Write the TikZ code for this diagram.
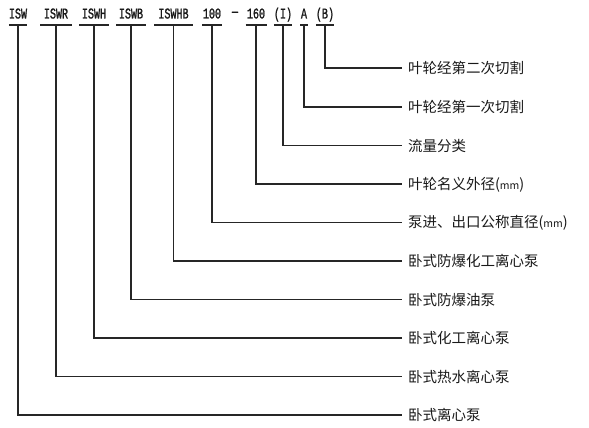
\documentclass[tikz,border=0pt]{standalone}
\usepackage{fontspec}
\setmainfont{Noto Sans CJK SC}
\newfontfamily\monofnt[FakeStretch=0.67,FakeBold=1.2]{Liberation Mono}
\newcommand{\mmunit}{({\fontsize{10.5}{10}\selectfont mm})}
\begin{document}
\begin{tikzpicture}[x=1pt,y=-1pt,
  lbl/.style={font=\monofnt\fontsize{15}{15}\selectfont, inner sep=0pt, outer sep=0pt,
    text height=9pt, text depth=6.5pt, anchor=south, text=black!90},
  desc/.style={font=\fontsize{14.5}{16}\selectfont, inner xsep=6.5pt, inner ysep=0pt,
    outer sep=0pt, anchor=west, text height=12.8pt, text depth=1.7pt, text=black!90},
  bar/.style={line width=1.6pt, draw=black!85},
  link/.style={line width=1.6pt, draw=black!85, line join=miter}]
\useasboundingbox (0,0) rectangle (589,428);
% top code labels
\node[lbl, minimum width=18pt] (c1) at (18,25) {ISW};
\node[lbl, minimum width=32pt] (c2) at (56,25) {ISWR};
\node[lbl, minimum width=30pt] (c3) at (94,25) {ISWH};
\node[lbl, minimum width=30pt] (c4) at (131,25) {ISWB};
\node[lbl, minimum width=39pt] (c5) at (173.5,25) {ISWHB};
\node[lbl, minimum width=20pt] (c6) at (212,25) {100};
\node[lbl, minimum width=21pt] (c7) at (256,25) {160};
\node[lbl, minimum width=15pt] (c8) at (283,25) {(I)};
\node[lbl, minimum width=8pt]  (c9) at (304,25) {A};
\node[lbl, minimum width=16pt] (c10) at (325,25) {(B)};
\node[font=\monofnt\fontsize{15}{15}\selectfont, inner sep=0pt, text=black!90] (hy) at (235,14) {—};
% descriptions
\node[desc] (d10) at (401.5,68.3) {叶轮经第二次切割};
\node[desc] (d9)  at (401.5,107) {叶轮经第一次切割};
\node[desc] (d8)  at (401.5,145.5) {流量分类};
\node[desc] (d7)  at (401.5,184) {叶轮名义外径\mmunit};
\node[desc] (d6)  at (401.5,222.3) {泵进、出口公称直径\mmunit};
\node[desc] (d5)  at (401.5,261) {卧式防爆化工离心泵};
\node[desc] (d4)  at (401.5,299.5) {卧式防爆油泵};
\node[desc] (d3)  at (401.5,338) {卧式化工离心泵};
\node[desc] (d2)  at (401.5,376.5) {卧式热水离心泵};
\node[desc] (d1)  at (401.5,415) {卧式离心泵};
% bars and connectors
\foreach \i in {1,...,10}{
  \draw[bar] (c\i.south west) -- (c\i.south east);
  \draw[link] (c\i.south) |- (d\i.west);
}
\end{tikzpicture}
\end{document}
